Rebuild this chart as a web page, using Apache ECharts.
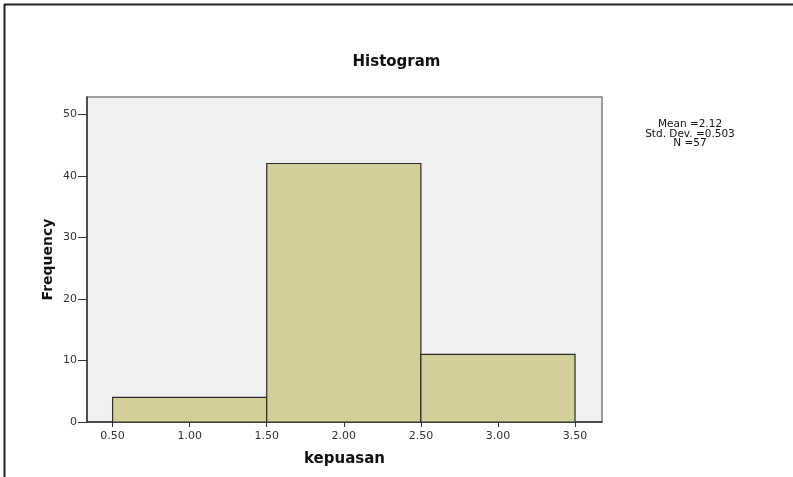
<!DOCTYPE html>
<html>
<head>
<meta charset="utf-8">
<script src="https://cdn.jsdelivr.net/npm/echarts@6/dist/echarts.min.js"></script>
<style>
  html, body { margin: 0; padding: 0; background: #fff; }
  #chart { width: 793px; height: 477px; }
</style>
</head>
<body>
<div id="chart"></div>
<script>
// data
var binStart = [0.5, 1.5, 2.5];
var binEnd = [1.5, 2.5, 3.5];
var frequency = [4, 42, 11];
var xTicks = [0.5, 1.0, 1.5, 2.0, 2.5, 3.0, 3.5];
var yTicks = [0, 10, 20, 30, 40, 50];
var statLines = ['Mean =2.12', 'Std. Dev. =0.503', 'N =57'];

var bars = [];
for (var i = 0; i < frequency.length; i++) {
  bars.push([binStart[i], binEnd[i], frequency[i]]);
}

var dom = document.getElementById('chart');
var myChart = echarts.init(dom, null, { renderer: 'canvas' });

var font = '"DejaVu Sans", Verdana, sans-serif';

var option = {
  backgroundColor: '#ffffff',
  animation: false,
  title: {
    text: 'Histogram',
    left: 'center',
    top: 50,
    textStyle: { fontFamily: font, fontSize: 15, fontWeight: 'bold', color: '#111' }
  },
  grid: {
    left: 87, top: 97, right: 191, bottom: 55,
    show: true,
    backgroundColor: '#f0f0f0',
    borderColor: '#7f7f7f',
    borderWidth: 1.5
  },
  xAxis: {
    type: 'value',
    min: 0.334,
    max: 3.675,
    name: 'kepuasan',
    nameLocation: 'middle',
    nameGap: 30,
    nameTextStyle: { fontFamily: font, fontSize: 15, fontWeight: 'bold', color: '#111' },
    axisLine: { show: true, lineStyle: { color: '#333', width: 1.5 } },
    axisTick: { show: true, length: 5, customValues: xTicks, lineStyle: { color: '#333' } },
    axisLabel: {
      customValues: xTicks,
      margin: 9,
      fontFamily: font, fontSize: 11, color: '#333',
      formatter: function (v) { return v.toFixed(2); }
    },
    splitLine: { show: false }
  },
  yAxis: {
    type: 'value',
    min: 0,
    max: 52.8,
    name: 'Frequency',
    nameLocation: 'middle',
    nameGap: 32,
    nameMoveOverlap: false,
    nameTextStyle: { fontFamily: font, fontSize: 14, fontWeight: 'bold', color: '#111' },
    axisLine: { show: true, lineStyle: { color: '#333', width: 1.5 } },
    axisTick: { show: true, length: 9, customValues: yTicks, lineStyle: { color: '#333' } },
    axisLabel: {
      customValues: yTicks,
      margin: 10,
      fontFamily: font, fontSize: 11, color: '#333'
    },
    splitLine: { show: false }
  },
  series: [{
    type: 'custom',
    data: bars,
    encode: { x: [0, 1], y: 2 },
    renderItem: function (params, api) {
      var p0 = api.coord([api.value(0), 0]);
      var p1 = api.coord([api.value(1), api.value(2)]);
      return {
        type: 'rect',
        shape: { x: p0[0], y: p1[1], width: p1[0] - p0[0], height: p0[1] - p1[1] },
        style: { fill: '#d3cf98', stroke: '#2b2b2b', lineWidth: 1.2 }
      };
    }
  }],
  graphic: [
    // outer frame, only top and left edges visible
    { type: 'line', shape: { x1: 4, y1: 4.5, x2: 793, y2: 4.5 }, style: { stroke: '#222', lineWidth: 2 } },
    { type: 'line', shape: { x1: 4.5, y1: 4, x2: 4.5, y2: 477 }, style: { stroke: '#222', lineWidth: 2 } },
    {
      type: 'text',
      x: 690,
      y: 120,
      style: {
        text: statLines.join('\n'),
        align: 'center',
        verticalAlign: 'top',
        fontFamily: font,
        fontSize: 10.5,
        lineHeight: 9.5,
        fill: '#111'
      }
    }
  ]
};

myChart.setOption(option);

window.addEventListener('resize', function () { myChart.resize(); });
</script>
</body>
</html>
